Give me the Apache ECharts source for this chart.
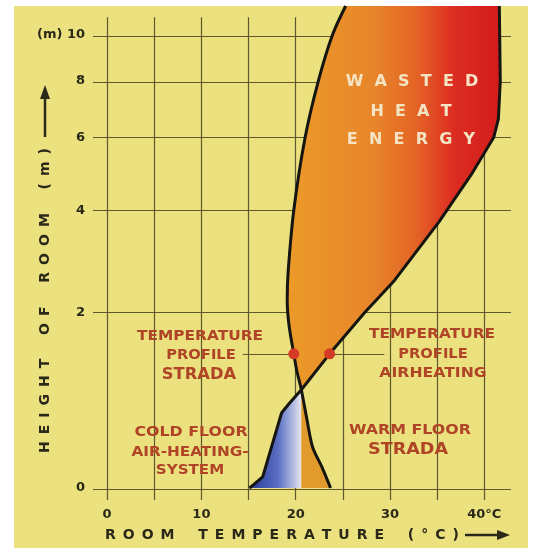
<!DOCTYPE html>
<html>
<head>
<meta charset="utf-8">
<script src="https://cdn.jsdelivr.net/npm/echarts@6/dist/echarts.min.js"></script>
<style>
html, body { margin: 0; background: #ffffff; }
#main { width: 536px; height: 558px; }
</style>
</head>
<body>
<div id="main"></div>
<script>
var tempTicks = [0, 10, 20, 30, 40];
var tempGrid = [0, 5, 10, 15, 20, 25, 30, 35, 40];
var heightTicks = [0, 2, 4, 6, 8, 10];

// floor heating (Strada) profile, [°C, m] from floor upward
var stradaProfile = [
    [23.7, 0], [22.8, 0.17], [21.8, 0.35], [21.2, 0.62], [20.6, 0.95],
    [20.1, 1.19], [19.8, 1.4], [19.3, 1.8], [19.1, 2.2], [19.2, 2.7],
    [19.8, 4], [21.0, 6], [22.4, 8], [23.9, 10], [25.3, 11.46]
];
// air heating profile
var airProfile = [
    [15.1, 0], [15.6, 0.03], [16.5, 0.09], [18.5, 0.69], [19.2, 0.78], [20.6, 0.95],
    [23.6, 1.4], [27.3, 2.0], [30.5, 2.55], [35.2, 3.73], [38.6, 4.9],
    [41.0, 6.0], [41.5, 6.6], [41.7, 8], [41.6, 11.46]
];
var profileMarks = [[19.8, 1.4], [23.6, 1.4]];
var crossing = [20.6, 0.95];

// the height axis of the drawing is stretched like log(h + 2)
function hy(h) { return Math.log(h + 2); }
function xy(p) { return [p[0], hy(p[1])]; }

var FONT = '"DejaVu Sans"';
var labelColor = '#b04427';
var gridColor = '#5e5830';

function spaced(s, gap, wordGap) {
    return s.split(' ').map(function (w) { return w.split('').join(gap); }).join(wordGap);
}

var wasteFill = new echarts.graphic.LinearGradient(0, 0, 1, 0, [
    { offset: 0, color: '#eb9a29' },
    { offset: 0.4, color: '#e8862a' },
    { offset: 0.6, color: '#e46526' },
    { offset: 0.78, color: '#dc2d22' },
    { offset: 1, color: '#d41c1c' }
]);
var coldFill = new echarts.graphic.LinearGradient(0, 0, 1, 0, [
    { offset: 0, color: '#283a9a' },
    { offset: 0.55, color: '#5a6fc2' },
    { offset: 0.85, color: '#b4bce2' },
    { offset: 1, color: '#e8e6f0' }
]);

var regions = [
    { pts: stradaProfile.slice(4).concat(airProfile.slice(5).reverse()), fill: wasteFill },
    { pts: airProfile.slice(0, 6).concat([[crossing[0], 0]]), fill: coldFill },
    { pts: [[crossing[0], 0]].concat(stradaProfile.slice(0, 5)), fill: '#e19a2c' }
];

var gridLines = [];
tempGrid.forEach(function (t) {
    gridLines.push([{ coord: [t, hy(-0.093)] }, { coord: [t, hy(10.88)] }]);
});
heightTicks.forEach(function (h) {
    gridLines.push({ yAxis: hy(h) });
});
gridLines.push([{ coord: [14.4, hy(1.4)] }, { coord: [29.4, hy(1.4)] }]);

function txt(text, x, y, size, opts) {
    opts = opts || {};
    return {
        type: 'text', x: x, y: y, z: 50,
        rotation: opts.rotation || 0,
        scaleX: opts.scaleX || 1,
        style: {
            text: text,
            font: 'bold ' + size + 'px ' + FONT,
            fill: opts.color || labelColor,
            textAlign: opts.align || 'center',
            textVerticalAlign: 'middle'
        }
    };
}

var G = '\u2002', W = '\u2003\u2002\u2009';
var heatGap = '\u2002\u2009';

var option = {
    animation: false,
    grid: { left: 93, right: 25, top: 6, bottom: 58 },
    xAxis: {
        type: 'value', min: -1.5, max: 42.84,
        axisLine: { show: false }, axisTick: { show: false }, splitLine: { show: false },
        axisLabel: {
            customValues: tempTicks, margin: 8,
            color: '#2a2818', fontFamily: FONT, fontWeight: 'bold', fontSize: 13,
            formatter: function (v) { return v === 40 ? '40°C' : String(v); }
        }
    },
    yAxis: {
        type: 'value', min: hy(-0.093), max: hy(11.46),
        axisLine: { show: false }, axisTick: { show: false }, splitLine: { show: false },
        axisLabel: {
            customValues: heightTicks.map(hy), margin: 8,
            color: '#2a2818', fontFamily: FONT, fontWeight: 'bold', fontSize: 13,
            formatter: function (v) {
                var h = Math.round(Math.exp(v) - 2);
                return h === 10 ? '(m) 10' : String(h);
            }
        }
    },
    graphic: [
        { type: 'rect', z: -10, shape: { x: 14, y: 6, width: 514, height: 542 }, style: { fill: '#ebe17f' } },

        txt(spaced('ROOM TEMPERATURE (°C)', G, W), 105, 535, 14, { align: 'left', color: '#2a2818' }),
        { type: 'line', z: 50, shape: { x1: 465, y1: 535, x2: 500, y2: 535 }, style: { stroke: '#2a2818', lineWidth: 2.5 } },
        { type: 'polygon', z: 50, shape: { points: [[497, 530], [510, 535], [497, 540]] }, style: { fill: '#2a2818' } },

        txt(spaced('HEIGHT OF ROOM (m)', G, W), 45, 453, 14, { align: 'left', color: '#2a2818', rotation: Math.PI / 2 }),
        { type: 'line', z: 50, shape: { x1: 45, y1: 137, x2: 45, y2: 97 }, style: { stroke: '#2a2818', lineWidth: 2.5 } },
        { type: 'polygon', z: 50, shape: { points: [[40, 99], [45, 85], [50, 99]] }, style: { fill: '#2a2818' } },

        txt(spaced('WASTED', heatGap, ''), 412, 82, 16, { color: '#f4e4c4' }),
        txt(spaced('HEAT', heatGap, ''), 411, 112, 16, { color: '#f4e4c4' }),
        txt(spaced('ENERGY', heatGap, ''), 411, 140, 16, { color: '#f4e4c4' }),

        txt('TEMPERATURE', 200, 336, 14, { scaleX: 1.1 }),
        txt('PROFILE', 201, 355, 14, { scaleX: 1.05 }),
        txt('STRADA', 199, 375, 16, { scaleX: 1.02 }),
        txt('TEMPERATURE', 432, 334, 14, { scaleX: 1.1 }),
        txt('PROFILE', 433, 354, 14, { scaleX: 1.05 }),
        txt('AIRHEATING', 433, 373, 14, { scaleX: 1.12 }),
        txt('COLD FLOOR', 191, 432, 14, { scaleX: 1.13 }),
        txt('AIR-HEATING-', 190, 452, 14, { scaleX: 1.09 }),
        txt('SYSTEM', 190, 470, 14, { scaleX: 1.08 }),
        txt('WARM FLOOR', 410, 430, 14, { scaleX: 1.13 }),
        txt('STRADA', 408, 450, 16, { scaleX: 1.1 })
    ],
    series: [
        {
            type: 'line', z: 1, data: [], silent: true,
            markLine: {
                z: 1, silent: true, symbol: ['none', 'none'], label: { show: false },
                lineStyle: { color: gridColor, width: 1.2, type: 'solid' },
                emphasis: { disabled: true },
                data: gridLines
            }
        },
        {
            type: 'custom', z: 2, silent: true,
            data: [[0], [1], [2]],
            renderItem: function (params, api) {
                var r = regions[params.dataIndex];
                return {
                    type: 'polygon',
                    shape: { points: r.pts.map(function (p) { return api.coord(xy(p)); }) },
                    style: { fill: r.fill }
                };
            }
        },
        {
            type: 'line', z: 3, silent: true, showSymbol: false, smooth: 0.3,
            data: stradaProfile.map(xy),
            lineStyle: { color: '#151511', width: 3 }
        },
        {
            type: 'line', z: 3, silent: true, showSymbol: false,
            data: airProfile.map(xy),
            lineStyle: { color: '#151511', width: 3 }
        },
        {
            type: 'scatter', z: 6, silent: true, symbolSize: 11,
            data: profileMarks.map(xy),
            itemStyle: { color: '#d43a26', opacity: 1 }
        }
    ]
};

var myChart = echarts.init(document.getElementById('main'));
myChart.setOption(option);
</script>
</body>
</html>
